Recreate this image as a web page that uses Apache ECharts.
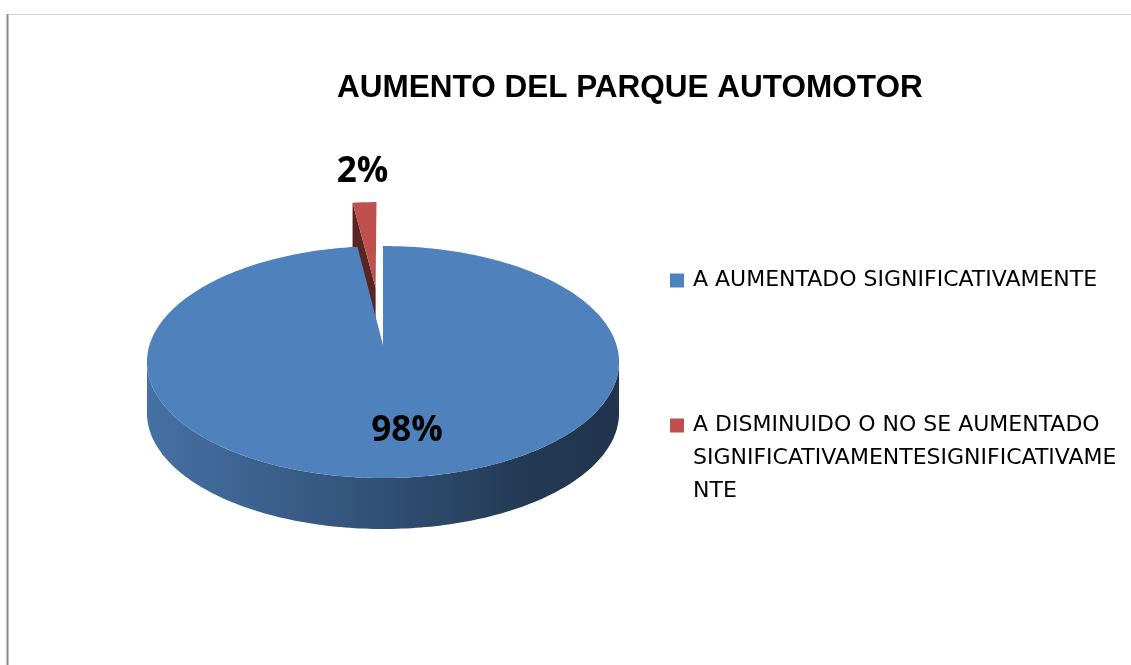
<!DOCTYPE html>
<html>
<head>
<meta charset="utf-8">
<script src="https://cdn.jsdelivr.net/npm/echarts@6/dist/echarts.min.js"></script>
<style>
  html, body { margin: 0; padding: 0; background: #fff; }
  #main { width: 1131px; height: 665px; }
</style>
</head>
<body>
<div id="main"></div>
<script>
var categories = [
  "A AUMENTADO SIGNIFICATIVAMENTE",
  "A DISMINUIDO O NO SE AUMENTADO SIGNIFICATIVAMENTESIGNIFICATIVAMENTE"
];
var values = [98, 2];
var palette = ["#4F81BD", "#C0504D"];

var chart = echarts.init(document.getElementById("main"));

// tilted pie geometry (perspective of a circle seen from above-front)
var CX = 383, CY = 345, A = 233.5, B = 113.5, K = 0.1466, DEPTH = 51;

function shade(hex, f) {
  var n = parseInt(hex.slice(1), 16);
  var r = Math.round(((n >> 16) & 255) * f);
  var g = Math.round(((n >> 8) & 255) * f);
  var b = Math.round((n & 255) * f);
  return "rgb(" + r + "," + g + "," + b + ")";
}

function pt(theta, r, off, dy) {
  var u = r * Math.sin(theta) + off[0];
  var v = -r * Math.cos(theta) + off[1];
  var w = 1 - K * v;
  return [CX + (A * u) / w, CY + (B * v) / w + (dy || 0)];
}

function arc(t0, t1, off, dy) {
  var pts = [];
  var n = Math.max(2, Math.ceil(Math.abs(t1 - t0) / (Math.PI / 180)));
  for (var i = 0; i <= n; i++) {
    pts.push(pt(t0 + ((t1 - t0) * i) / n, 1, off, dy));
  }
  return pts;
}

function makeSeries(idx, explode) {
  return {
    type: "custom",
    name: categories[idx],
    coordinateSystem: "none",
    z: idx === 0 ? 3 : 2,
    itemStyle: { color: palette[idx] },
    data: [values[idx]],
    renderItem: function (params, api) {
      var total = 0, before = 0;
      for (var i = 0; i < values.length; i++) {
        total += values[i];
        if (i < idx) before += values[i];
      }
      var val = api.value(0);
      var t0 = (before / total) * Math.PI * 2;
      var t1 = t0 + (val / total) * Math.PI * 2;
      var tm = (t0 + t1) / 2;
      var off = [explode * Math.sin(tm), -explode * Math.cos(tm)];
      var color = palette[idx];
      var children = [];
      var apex = pt(0, 0, off);
      var apexD = pt(0, 0, off, DEPTH);

      // radial faces turned towards the viewer
      if (-Math.sin(t0) > 0.001) {
        children.push({
          type: "polygon",
          shape: { points: [apex, pt(t0, 1, off), pt(t0, 1, off, DEPTH), apexD] },
          style: { fill: shade(color, 0.46) }
        });
      }
      if (Math.sin(t1) > 0.001) {
        children.push({
          type: "polygon",
          shape: { points: [apex, pt(t1, 1, off), pt(t1, 1, off, DEPTH), apexD] },
          style: { fill: shade(color, 0.46) }
        });
      }

      // front wall between the two silhouette points
      var tR = Math.acos(-K), tL = Math.PI * 2 - tR;
      var wa = Math.max(t0, tR), wb = Math.min(t1, tL);
      if (wb > wa) {
        var top = arc(wa, wb, off, 0);
        var bot = arc(wa, wb, off, DEPTH).reverse();
        children.push({
          type: "polygon",
          shape: { points: top.concat(bot) },
          style: {
            fill: new echarts.graphic.LinearGradient(CX - A - 10, 0, CX + A + 10, 0, [
              { offset: 0, color: shade(color, 0.88) },
              { offset: 0.5, color: shade(color, 0.62) },
              { offset: 0.8, color: shade(color, 0.44) },
              { offset: 1, color: shade(color, 0.4) }
            ], true)
          }
        });
      }

      // top face
      children.push({
        type: "polygon",
        shape: { points: [apex].concat(arc(t0, t1, off, 0)) },
        style: { fill: color }
      });

      // percentage label
      var pct = Math.round((val / total) * 100) + "%";
      var lp;
      if (val / total > 0.1) {
        lp = pt(tm, 0.68, off);
        lp = [lp[0] + 13, lp[1]];
      } else {
        lp = pt(tm, 1, off);
        lp = [lp[0] - 2, lp[1] - 30];
      }
      children.push({
        type: "text",
        x: lp[0],
        y: lp[1],
        style: {
          text: pct,
          fill: "#000",
          font: 'bold 35px "Open Sans"',
          align: "center",
          verticalAlign: "middle"
        }
      });

      return { type: "group", children: children };
    }
  };
}

var option = {
  backgroundColor: "#fff",
  animation: false,
  title: {
    text: "AUMENTO DEL PARQUE AUTOMOTOR",
    left: 337,
    top: 72,
    padding: 0,
    textStyle: {
      fontFamily: "Liberation Sans",
      fontWeight: "bold",
      fontSize: 31.5,
      color: "#000"
    }
  },
  legend: {
    orient: "vertical",
    left: 670,
    top: 264,
    padding: 0,
    itemWidth: 14,
    itemHeight: 14,
    itemGap: 46,
    icon: "rect",
    // the long entry gets two blank lines on top so its swatch sits on the first text line
    formatter: function (name) {
      return name === categories[1] ? "\n\n" + name : name;
    },
    textStyle: {
      fontFamily: "DejaVu Sans",
      fontSize: 22,
      color: "#000",
      lineHeight: 33,
      width: 432,
      overflow: "break",
      padding: [0, 0, 0, 4]
    },
    data: [
      { name: categories[0], itemStyle: { color: palette[0] } },
      { name: categories[1], itemStyle: { color: palette[1] } }
    ]
  },
  graphic: [
    { type: "line", shape: { x1: 8, y1: 14.5, x2: 1131, y2: 14.5 }, style: { stroke: "#D4D4D4", lineWidth: 1 } },
    { type: "line", shape: { x1: 7.5, y1: 14, x2: 7.5, y2: 665 }, style: { stroke: "#8C8C8C", lineWidth: 2 } }
  ],
  series: [makeSeries(0, 0), makeSeries(1, 0.545)]
};

chart.setOption(option);
window.onresize = chart.resize;
</script>
</body>
</html>
